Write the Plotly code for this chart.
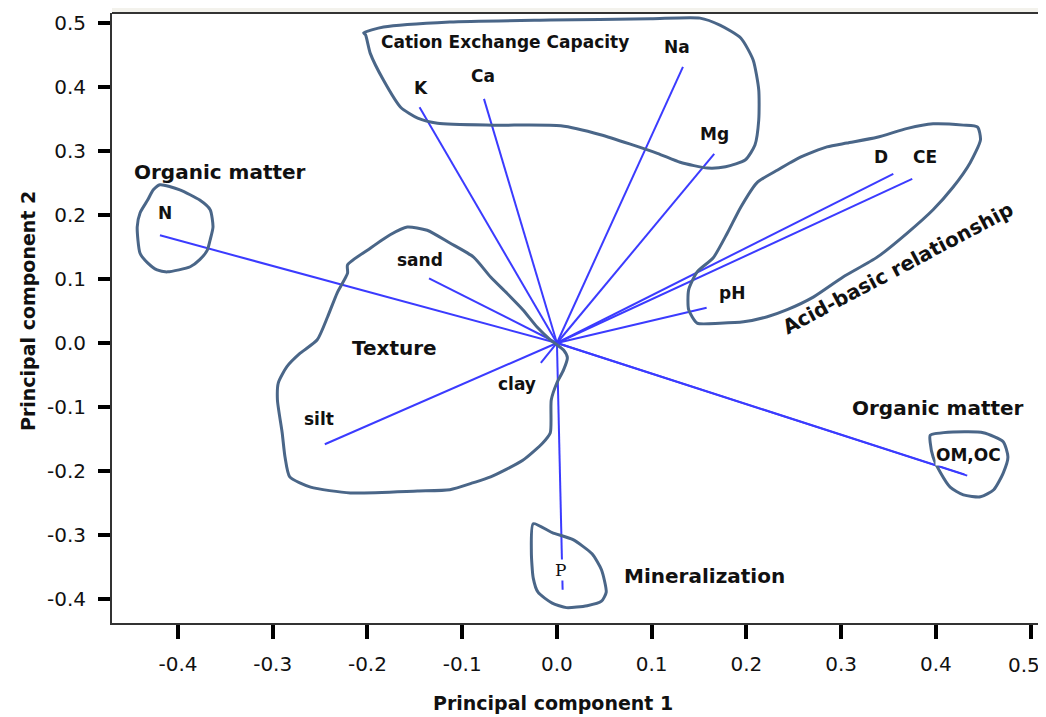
import plotly.graph_objects as go

# ---- Loadings (PC1, PC2) of each soil variable ----
variables = ["N", "K", "Ca", "Na", "Mg", "D", "CE", "pH", "sand", "silt", "clay", "P", "OM", "OC"]
pc1 = [-0.419, -0.145, -0.077, 0.133, 0.166, 0.355, 0.375, 0.158, -0.135, -0.245, -0.017, 0.006, 0.433, 0.430]
pc2 = [0.168, 0.368, 0.381, 0.431, 0.295, 0.264, 0.256, 0.055, 0.101, -0.158, -0.031, -0.385, -0.207, -0.205]

# ---- Hand-drawn group outlines (data units) ----
cec_x = [-0.204, -0.183, -0.113, -0.007, 0.099, 0.151, 0.172, 0.194, 0.207, 0.213, 0.213, 0.209, 0.199,
         0.178, 0.159, 0.130, 0.106, 0.046, 0.004, -0.067, -0.126, -0.147, -0.165, -0.183, -0.197, -0.202]
cec_y = [0.484, 0.493, 0.501, 0.504, 0.506, 0.507, 0.496, 0.476, 0.442, 0.395, 0.348, 0.309, 0.286,
         0.275, 0.273, 0.282, 0.296, 0.325, 0.339, 0.340, 0.343, 0.351, 0.368, 0.410, 0.452, 0.481]

acid_x = [0.444, 0.429, 0.397, 0.370, 0.338, 0.306, 0.285, 0.257, 0.233, 0.211, 0.194, 0.180, 0.165, 0.148,
          0.139, 0.139, 0.148, 0.172, 0.197, 0.222, 0.243, 0.271, 0.302, 0.338, 0.370, 0.397, 0.418, 0.436, 0.447]
acid_y = [0.337, 0.340, 0.342, 0.335, 0.321, 0.312, 0.306, 0.290, 0.270, 0.250, 0.212, 0.172, 0.133, 0.111,
          0.083, 0.052, 0.031, 0.031, 0.033, 0.041, 0.052, 0.072, 0.103, 0.134, 0.172, 0.208, 0.243, 0.281, 0.317]

tex_x = [-0.221, -0.197, -0.176, -0.158, -0.137, -0.113, -0.088, -0.070, -0.053, -0.036, -0.021, -0.007, 0.007,
         0.011, 0.007, 0.000, -0.006, -0.007, -0.015, -0.036, -0.070, -0.088, -0.113, -0.147, -0.218, -0.260,
         -0.282, -0.287, -0.290, -0.295, -0.294, -0.285, -0.271, -0.253, -0.242, -0.232, -0.221]
tex_y = [0.122, 0.148, 0.169, 0.181, 0.176, 0.156, 0.134, 0.103, 0.078, 0.052, 0.025, 0.005, -0.011,
         -0.023, -0.042, -0.062, -0.089, -0.140, -0.156, -0.183, -0.209, -0.218, -0.229, -0.231, -0.234, -0.225,
         -0.209, -0.178, -0.140, -0.089, -0.062, -0.037, -0.016, 0.005, 0.041, 0.078, 0.109]

n_x = [-0.419, -0.398, -0.377, -0.366, -0.363, -0.366, -0.369, -0.377, -0.387, -0.411, -0.422, -0.432, -0.440,
       -0.443, -0.440, -0.432, -0.426]
n_y = [0.247, 0.239, 0.223, 0.208, 0.181, 0.161, 0.145, 0.130, 0.119, 0.111, 0.114, 0.125, 0.140,
       0.181, 0.203, 0.223, 0.239]

om_x = [0.394, 0.418, 0.450, 0.471, 0.476, 0.471, 0.461, 0.447, 0.429, 0.415, 0.405, 0.397, 0.394]
om_y = [-0.144, -0.139, -0.140, -0.154, -0.178, -0.203, -0.229, -0.240, -0.237, -0.225, -0.203, -0.178, -0.156]

p_x = [-0.025, -0.005, 0.017, 0.037, 0.047, 0.052, 0.047, 0.032, 0.010, -0.005, -0.020, -0.025, -0.027]
p_y = [-0.282, -0.296, -0.307, -0.329, -0.354, -0.389, -0.403, -0.410, -0.413, -0.406, -0.389, -0.367, -0.326]

outlines = [(cec_x, cec_y), (acid_x, acid_y), (tex_x, tex_y), (n_x, n_y), (om_x, om_y), (p_x, p_y)]

# ---- Text labels ----
var_labels = ["N", "K", "Ca", "Na", "Mg", "D", "CE", "pH", "sand", "silt", "clay", "P", "OM,OC"]
var_label_x = [-0.414, -0.144, -0.078, 0.127, 0.166, 0.342, 0.388, 0.185, -0.145, -0.251, -0.042, 0.0035, 0.434]
var_label_y = [0.203, 0.398, 0.417, 0.462, 0.326, 0.290, 0.290, 0.078, 0.130, -0.119, -0.064, -0.354, -0.175]

group_labels = ["Cation Exchange Capacity", "Organic matter", "Texture", "Organic matter", "Mineralization",
                "Acid-basic relationship"]
group_label_x = [-0.055, -0.356, -0.171, 0.402, 0.156, 0.360]
group_label_y = [0.470, 0.267, -0.008, -0.101, -0.3635, 0.117]

x_ticks = [-0.4, -0.3, -0.2, -0.1, 0.0, 0.1, 0.2, 0.3, 0.4, 0.5]
y_ticks = [-0.4, -0.3, -0.2, -0.1, 0.0, 0.1, 0.2, 0.3, 0.4, 0.5]
x_tick_text = ["%.1f" % v for v in x_ticks]

FONT = "DejaVu Sans"
LINE_BLUE = "#3b3bff"
BLOB = "#4a6688"

fig = go.Figure()

# loading vectors from the origin
lx, ly = [], []
for x, y in zip(pc1, pc2):
    lx += [0, x, None]
    ly += [0, y, None]
fig.add_trace(go.Scatter(x=lx, y=ly, mode="lines", line=dict(color=LINE_BLUE, width=2),
                         hoverinfo="skip", showlegend=False))

# hand drawn outlines
for ox, oy in outlines:
    fig.add_trace(go.Scatter(x=list(ox) + [ox[0]], y=list(oy) + [oy[0]], mode="lines",
                             line=dict(color=BLOB, width=3, shape="spline", smoothing=0.6),
                             hoverinfo="skip", showlegend=False))

annotations = []
for t, x, y in zip(var_labels, var_label_x, var_label_y):
    if t == "P":
        annotations.append(dict(x=x, y=y, xref="x", yref="y", text=t, showarrow=False,
                                font=dict(family="DejaVu Serif", size=17, color="#111"),
                                bgcolor="white", borderpad=0))
    else:
        annotations.append(dict(x=x, y=y, xref="x", yref="y", text="<b>%s</b>" % t, showarrow=False,
                                font=dict(family=FONT, size=17, color="#111"),
                                bgcolor="white" if t == "OM,OC" else None, borderpad=0))

for i, (t, x, y) in enumerate(zip(group_labels, group_label_x, group_label_y)):
    size = 17 if i == 0 else 20
    ang = -28 if t.startswith("Acid") else 0
    annotations.append(dict(x=x, y=y, xref="x", yref="y", text="<b>%s</b>" % t, showarrow=False,
                            textangle=ang, font=dict(family=FONT, size=size, color="#111")))

# last x tick label drawn as text so it stays inside the page (like the reference, nudged left)
annotations.append(dict(x=x_ticks[-1], y=-0.069, xref="x", yref="paper", text=x_tick_text[-1],
                        showarrow=False, xshift=-7, xanchor="center", yanchor="middle",
                        font=dict(family=FONT, size=20, color="#111")))

# axis titles
annotations.append(dict(x=0.4737, y=-0.131, xref="paper", yref="paper", text="<b>Principal component 1</b>",
                        showarrow=False, font=dict(family=FONT, size=19, color="#111"),
                        xanchor="center", yanchor="middle"))
annotations.append(dict(x=-0.0902, y=0.5115, xref="paper", yref="paper", text="<b>Principal component 2</b>",
                        showarrow=False, textangle=-90, font=dict(family=FONT, size=19, color="#111"),
                        xanchor="center", yanchor="middle"))

shapes = [
    # light strip above the plot frame
    dict(type="rect", xref="paper", yref="paper", x0=0, x1=1.0, y0=1.0, y1=1.01,
         fillcolor="#f3f2ec", line=dict(width=0), layer="below"),
    # top frame line
    dict(type="line", xref="paper", yref="paper", x0=0, x1=1.0, y0=1, y1=1,
         line=dict(color="#333", width=2)),
    # right frame line (light)
    dict(type="line", xref="paper", yref="paper", x0=1, x1=1, y0=0, y1=1,
         line=dict(color="#cfcfcf", width=2)),
]

# page body adds an 8px offset, so the figure is sized to fill the rest of the window
fig.update_layout(
    width=1038, height=709,
    margin=dict(l=104, r=3, t=5, b=94),
    paper_bgcolor="white", plot_bgcolor="white",
    showlegend=False,
    font=dict(family=FONT, color="#111"),
    annotations=annotations,
    shapes=shapes,
    xaxis=dict(range=[-0.4696, 0.513], tickvals=x_ticks, ticktext=x_tick_text[:-1] + [""],
               showgrid=False, zeroline=False, showline=True, linecolor="#333", linewidth=2,
               ticks="outside", ticklen=14, tickwidth=4, tickcolor="#000",
               tickfont=dict(family=FONT, size=20, color="#111"), ticklabelstandoff=8),
    yaxis=dict(range=[-0.437, 0.515], tickvals=y_ticks, ticktext=["%.1f" % v for v in y_ticks],
               showgrid=False, zeroline=False, showline=True, linecolor="#333", linewidth=2,
               ticks="outside", ticklen=12, tickwidth=4, tickcolor="#000",
               tickfont=dict(family=FONT, size=20, color="#111"), ticklabelstandoff=8),
)

fig.write_html("out.html")
